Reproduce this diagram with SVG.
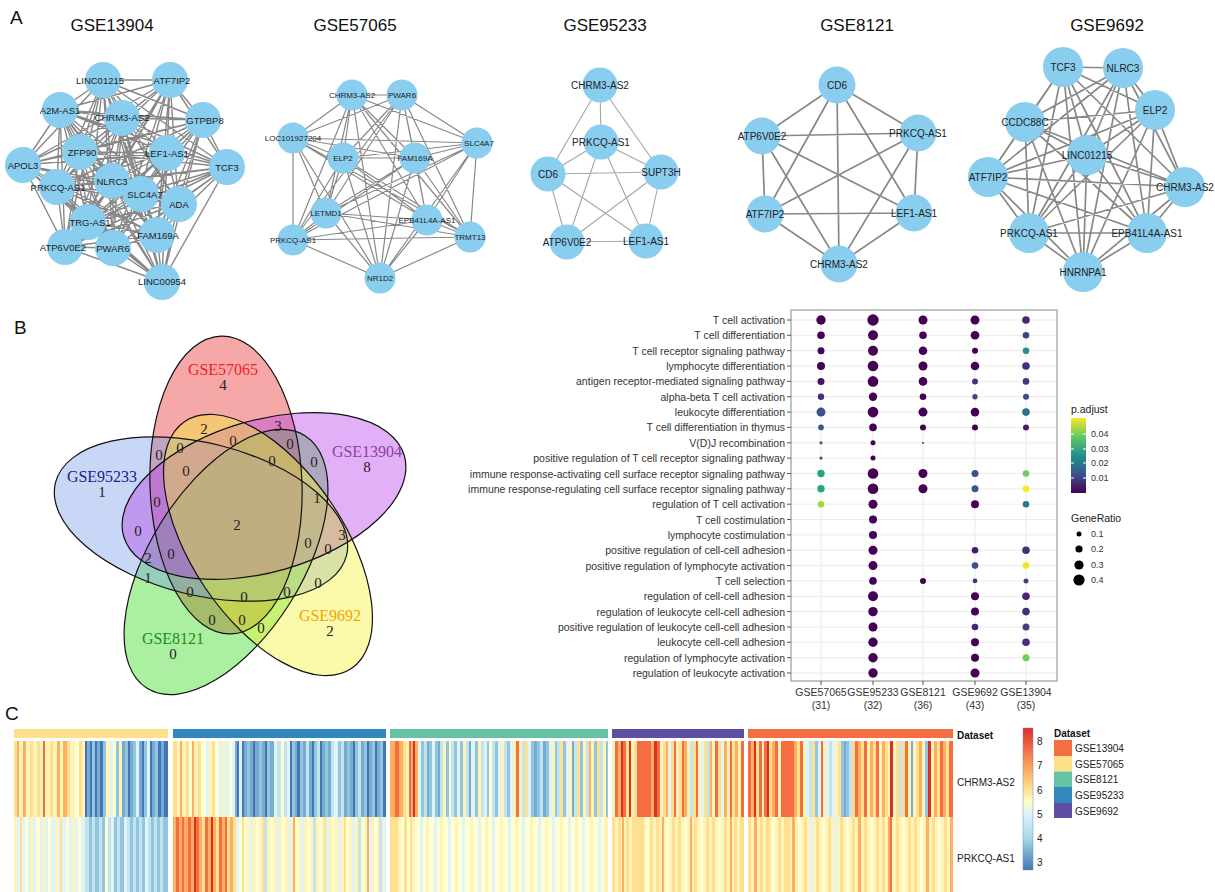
<svg xmlns="http://www.w3.org/2000/svg" width="1215" height="892" viewBox="0 0 1215 892">
<style>
text{font-family:"Liberation Sans",Arial,sans-serif}
.pl{font-size:19px;fill:#111}
.tt{font-size:17px;fill:#111;text-anchor:middle}
.nd circle{fill:#89CDEF}
.nd text{font-size:9.5px;fill:#222;text-anchor:middle;dominant-baseline:central}
.s8 text{font-size:8px}
.s10 text{font-size:10px}
.ed{fill:none;stroke:#888;stroke-linejoin:round;stroke-linecap:round}
.vn{font-family:"Liberation Serif","Times New Roman",serif;font-size:15px;fill:#222;text-anchor:middle;dominant-baseline:central}
.vl{font-family:"Liberation Serif","Times New Roman",serif;font-size:16px;text-anchor:middle;dominant-baseline:central}
.ax{font-size:10.5px;fill:#333;text-anchor:end;dominant-baseline:central}
.cx{font-size:10.5px;fill:#333;text-anchor:middle}
.lg{font-size:10.5px;fill:#222}
.lt{font-size:9px;fill:#333;dominant-baseline:central}
.hl{font-size:10px;fill:#222;dominant-baseline:central}
.hb{font-size:10px;fill:#111;font-weight:bold;dominant-baseline:central}
.hr rect{height:76px}
.hr .R{fill:#D73027}.hr .r{fill:#F46D43}.hr .o{fill:#FDAE61}.hr .y{fill:#FEE090}.hr .p{fill:#FFF3B8}.hr .w{fill:#FFFFD4}.hr .l{fill:#E0F3F8}.hr .c{fill:#C3E3EE}.hr .b{fill:#92C5DE}.hr .m{fill:#74ADD1}.hr .d{fill:#4575B4}
</style>
<defs>
<linearGradient id="vir" x1="0" y1="1" x2="0" y2="0">
<stop offset="0" stop-color="#440154"/><stop offset="0.25" stop-color="#3B528B"/><stop offset="0.5" stop-color="#21918C"/><stop offset="0.75" stop-color="#5EC962"/><stop offset="1" stop-color="#FDE725"/>
</linearGradient>
<linearGradient id="rdylbu" x1="0" y1="0" x2="0" y2="1">
<stop offset="0" stop-color="#D73027"/><stop offset="0.15" stop-color="#F46D43"/><stop offset="0.3" stop-color="#FDAE61"/><stop offset="0.43" stop-color="#FEE090"/><stop offset="0.52" stop-color="#FFFFBF"/><stop offset="0.6" stop-color="#E0F3F8"/><stop offset="0.77" stop-color="#ABD9E9"/><stop offset="0.88" stop-color="#74ADD1"/><stop offset="1" stop-color="#4575B4"/>
</linearGradient>
<ellipse id="eR" cx="226" cy="485" rx="76" ry="149" transform="rotate(-2 226 485)"/>
<ellipse id="eP" cx="264" cy="496" rx="76" ry="146" transform="rotate(74 264 496)"/>
<ellipse id="eY" cx="268" cy="545" rx="76" ry="149" transform="rotate(-34 268 545)"/>
<ellipse id="eG" cx="226" cy="562" rx="76" ry="149" transform="rotate(32 226 562)"/>
<ellipse id="eB" cx="201" cy="519" rx="76" ry="150" transform="rotate(-76 201 519)"/>
</defs>
<rect width="1215" height="892" fill="#fff"/>

<!-- Panel A -->
<text class="pl" x="10" y="24">A</text>
<text class="tt" x="112" y="31">GSE13904</text>
<text class="tt" x="355" y="31">GSE57065</text>
<text class="tt" x="605" y="31">GSE95233</text>
<text class="tt" x="857" y="31">GSE8121</text>
<text class="tt" x="1107" y="31">GSE9692</text>

<g id="connectors">
<path id="e13904" class="ed" stroke-width="1.4" d="M103 80L170 80 103 80 60 110 103 80 122 118 103 80 203 120 103 80 80 152 103 80 167 153 103 80 23 165 103 80 227 167 103 80 57 187 103 80 113 182 103 80 140 193 103 80 178 203 103 80 88 222 103 80 157 235 103 80 65 247 103 80 113 248 103 80 162 282
M170 80L60 110 170 80 122 118 170 80 203 120 170 80 80 152 170 80 167 153 170 80 23 165 170 80 227 167 170 80 57 187 170 80 113 182 170 80 140 193 170 80 178 203 170 80 88 222 170 80 157 235 170 80 65 247 170 80 113 248 170 80 162 282
M60 110L122 118 60 110 203 120 60 110 80 152 60 110 167 153 60 110 23 165 60 110 227 167 60 110 57 187 60 110 113 182 60 110 140 193 60 110 178 203 60 110 88 222 60 110 157 235 60 110 65 247 60 110 113 248 60 110 162 282
M122 118L203 120 122 118 80 152 122 118 167 153 122 118 23 165 122 118 227 167 122 118 57 187 122 118 113 182 122 118 140 193 122 118 178 203 122 118 88 222 122 118 157 235 122 118 65 247 122 118 113 248 122 118 162 282
M203 120L80 152 203 120 167 153 203 120 23 165 203 120 227 167 203 120 57 187 203 120 113 182 203 120 140 193 203 120 178 203 203 120 88 222 203 120 157 235 203 120 65 247 203 120 113 248 203 120 162 282
M80 152L167 153 80 152 23 165 80 152 227 167 80 152 57 187 80 152 113 182 80 152 140 193 80 152 178 203 80 152 88 222 80 152 157 235 80 152 65 247 80 152 113 248 80 152 162 282
M167 153L23 165 167 153 227 167 167 153 57 187 167 153 113 182 167 153 140 193 167 153 178 203 167 153 88 222 167 153 157 235 167 153 65 247 167 153 113 248 167 153 162 282
M23 165L57 187 23 165 113 182 23 165 140 193 23 165 178 203 23 165 88 222 23 165 157 235 23 165 65 247 23 165 113 248 23 165 162 282
M227 167L57 187 227 167 113 182 227 167 140 193 227 167 178 203 227 167 88 222 227 167 157 235 227 167 65 247 227 167 113 248 227 167 162 282
M57 187L113 182 57 187 140 193 57 187 178 203 57 187 88 222 57 187 157 235 57 187 65 247 57 187 113 248 57 187 162 282
M113 182L140 193 113 182 178 203 113 182 88 222 113 182 157 235 113 182 65 247 113 182 113 248 113 182 162 282
M140 193L178 203 140 193 88 222 140 193 157 235 140 193 65 247 140 193 113 248 140 193 162 282
M178 203L88 222 178 203 157 235 178 203 65 247 178 203 113 248 178 203 162 282
M88 222L157 235 88 222 65 247 88 222 113 248 88 222 162 282
M157 235L65 247 157 235 113 248 157 235 162 282
M65 247L113 248 65 247 162 282 M113 248L162 282"/>
<path id="e57065" class="ed" stroke-width="1.2" d="M352 95L402 95 352 95 293 138 352 95 477 143 352 95 343 158 352 95 415 158 352 95 326 213 352 95 427 220 352 95 293 240 352 95 470 237 352 95 380 278
M402 95L293 138 402 95 477 143 402 95 343 158 402 95 415 158 402 95 326 213 402 95 427 220 402 95 293 240 402 95 470 237 402 95 380 278
M293 138L477 143 293 138 343 158 293 138 415 158 293 138 326 213 293 138 427 220 293 138 293 240 293 138 470 237 293 138 380 278
M477 143L343 158 477 143 415 158 477 143 326 213 477 143 427 220 477 143 293 240 477 143 470 237 477 143 380 278
M343 158L415 158 343 158 326 213 343 158 427 220 343 158 293 240 343 158 470 237 343 158 380 278
M415 158L326 213 415 158 427 220 415 158 293 240 415 158 470 237 415 158 380 278
M326 213L427 220 326 213 293 240 326 213 470 237 326 213 380 278
M427 220L293 240 427 220 470 237 427 220 380 278
M293 240L470 237 293 240 380 278 M470 237L380 278"/>
<path id="e95233" class="ed" stroke-width="1.1" style="stroke:#a6a6a6" d="M600 85L601 142M600 85L548 174M600 85L661 172M601 142L548 174M601 142L661 172M601 142L567 242M601 142L646 241M548 174L661 172M548 174L567 242M548 174L646 241M661 172L567 242M661 172L646 241M567 242L646 241"/>
<path id="e8121" class="ed" stroke-width="1.7" d="M837 85L762 136 837 85 918 133 837 85 765 214 837 85 914 213 837 85 839 264 M762 136L918 133 762 136 765 214 762 136 914 213 762 136 839 264 M918 133L765 214 918 133 914 213 918 133 839 264 M765 214L914 213 765 214 839 264 M914 213L839 264"/>
<path id="e9692" class="ed" stroke-width="1.7" d="M1063 67L1123 68 1063 67 1155 110 1063 67 1025 122 1063 67 1087 155 1063 67 988 177 1063 67 1185 187 1063 67 1029 233 1063 67 1147 233 1063 67 1083 272
M1123 68L1155 110 1123 68 1025 122 1123 68 1087 155 1123 68 988 177 1123 68 1185 187 1123 68 1029 233 1123 68 1147 233 1123 68 1083 272
M1155 110L1025 122 1155 110 1087 155 1155 110 988 177 1155 110 1185 187 1155 110 1029 233 1155 110 1147 233 1155 110 1083 272
M1025 122L1087 155 1025 122 988 177 1025 122 1185 187 1025 122 1029 233 1025 122 1147 233 1025 122 1083 272
M1087 155L988 177 1087 155 1185 187 1087 155 1029 233 1087 155 1147 233 1087 155 1083 272
M988 177L1185 187 988 177 1029 233 988 177 1147 233 988 177 1083 272
M1185 187L1029 233 1185 187 1147 233 1185 187 1083 272
M1029 233L1147 233 1029 233 1083 272 M1147 233L1083 272"/>
</g>

<g id="net-GSE13904" class="nd">
<g id="n1-LINC01215"><circle cx="103" cy="80" r="18"/><text x="100" y="80">LINC01215</text></g>
<g id="n1-ATF7IP2"><circle cx="170" cy="80" r="18"/><text x="172" y="80">ATF7IP2</text></g>
<g id="n1-A2M-AS1"><circle cx="60" cy="110" r="18"/><text x="60" y="110">A2M-AS1</text></g>
<g id="n1-CHRM3-AS2"><circle cx="122" cy="118" r="18"/><text x="122" y="117">CHRM3-AS2</text></g>
<g id="n1-GTPBP8"><circle cx="203" cy="120" r="18"/><text x="205" y="120">GTPBP8</text></g>
<g id="n1-ZFP90"><circle cx="80" cy="152" r="18"/><text x="82" y="152">ZFP90</text></g>
<g id="n1-LEF1-AS1"><circle cx="167" cy="153" r="18"/><text x="167" y="153">LEF1-AS1</text></g>
<g id="n1-APOL3"><circle cx="23" cy="165" r="18"/><text x="23" y="165">APOL3</text></g>
<g id="n1-TCF3"><circle cx="227" cy="167" r="18"/><text x="227" y="167">TCF3</text></g>
<g id="n1-PRKCQ-AS1"><circle cx="57" cy="187" r="18"/><text x="58" y="187">PRKCQ-AS1</text></g>
<g id="n1-SLC4A7"><circle cx="141" cy="194" r="18"/><text x="145" y="194">SLC4A7</text></g>
<g id="n1-NLRC3"><circle cx="112" cy="181" r="18"/><text x="112" y="181">NLRC3</text></g>
<g id="n1-ADA"><circle cx="179" cy="204" r="18"/><text x="179" y="204">ADA</text></g>
<g id="n1-TRG-AS1"><circle cx="88" cy="222" r="18"/><text x="90" y="222">TRG-AS1</text></g>
<g id="n1-FAM169A"><circle cx="157" cy="235" r="18"/><text x="158" y="235">FAM169A</text></g>
<g id="n1-ATP6V0E2"><circle cx="65" cy="247" r="18"/><text x="63" y="247">ATP6V0E2</text></g>
<g id="n1-PWAR6"><circle cx="113" cy="248" r="18"/><text x="113" y="248">PWAR6</text></g>
<g id="n1-LINC00954"><circle cx="162" cy="282" r="18"/><text x="162" y="281">LINC00954</text></g>
</g>

<g id="net-GSE57065" class="nd s8">
<g id="n2-CHRM3-AS2"><circle cx="352" cy="95" r="15.5"/><text x="352" y="95">CHRM3-AS2</text></g>
<g id="n2-PWAR6"><circle cx="402" cy="95" r="15.5"/><text x="402" y="95">PWAR6</text></g>
<g id="n2-LOC101927204"><circle cx="293" cy="138" r="15.5"/><text x="293" y="138">LOC101927204</text></g>
<g id="n2-SLC4A7"><circle cx="477" cy="143" r="15.5"/><text x="479" y="143">SLC4A7</text></g>
<g id="n2-ELP2"><circle cx="343" cy="158" r="15.5"/><text x="343" y="158">ELP2</text></g>
<g id="n2-FAM169A"><circle cx="415" cy="158" r="15.5"/><text x="415" y="158">FAM169A</text></g>
<g id="n2-LETMD1"><circle cx="326" cy="213" r="15.5"/><text x="326" y="213">LETMD1</text></g>
<g id="n2-EPB41L4A-AS1"><circle cx="427" cy="220" r="15.5"/><text x="427" y="220">EPB41L4A-AS1</text></g>
<g id="n2-PRKCQ-AS1"><circle cx="293" cy="240" r="15.5"/><text x="293" y="240">PRKCQ-AS1</text></g>
<g id="n2-TRMT13"><circle cx="470" cy="237" r="15.5"/><text x="470" y="237">TRMT13</text></g>
<g id="n2-NR1D2"><circle cx="380" cy="278" r="15.5"/><text x="380" y="278">NR1D2</text></g>
</g>

<g id="net-GSE95233" class="nd s10">
<g id="n3-CHRM3-AS2"><circle cx="600" cy="85" r="17.5"/><text x="600" y="85">CHRM3-AS2</text></g>
<g id="n3-PRKCQ-AS1"><circle cx="601" cy="142" r="17.5"/><text x="601" y="142">PRKCQ-AS1</text></g>
<g id="n3-CD6"><circle cx="548" cy="174" r="17.5"/><text x="548" y="174">CD6</text></g>
<g id="n3-SUPT3H"><circle cx="661" cy="172" r="17.5"/><text x="661" y="172">SUPT3H</text></g>
<g id="n3-ATP6V0E2"><circle cx="567" cy="242" r="17.5"/><text x="567" y="242">ATP6V0E2</text></g>
<g id="n3-LEF1-AS1"><circle cx="646" cy="241" r="17.5"/><text x="646" y="241">LEF1-AS1</text></g>
</g>

<g id="net-GSE8121" class="nd s10">
<g id="n4-CD6"><circle cx="837" cy="85" r="18.5"/><text x="837" y="85">CD6</text></g>
<g id="n4-ATP6V0E2"><circle cx="762" cy="136" r="18.5"/><text x="762" y="136">ATP6V0E2</text></g>
<g id="n4-PRKCQ-AS1"><circle cx="918" cy="133" r="18.5"/><text x="918" y="133">PRKCQ-AS1</text></g>
<g id="n4-ATF7IP2"><circle cx="765" cy="214" r="18.5"/><text x="765" y="214">ATF7IP2</text></g>
<g id="n4-LEF1-AS1"><circle cx="914" cy="213" r="18.5"/><text x="914" y="213">LEF1-AS1</text></g>
<g id="n4-CHRM3-AS2"><circle cx="839" cy="264" r="18.5"/><text x="839" y="264">CHRM3-AS2</text></g>
</g>

<g id="net-GSE9692" class="nd s10">
<g id="n5-TCF3"><circle cx="1063" cy="67" r="20"/><text x="1063" y="67">TCF3</text></g>
<g id="n5-NLRC3"><circle cx="1123" cy="68" r="20"/><text x="1123" y="68">NLRC3</text></g>
<g id="n5-ELP2"><circle cx="1155" cy="110" r="20"/><text x="1155" y="110">ELP2</text></g>
<g id="n5-CCDC88C"><circle cx="1025" cy="122" r="20"/><text x="1025" y="122">CCDC88C</text></g>
<g id="n5-LINC01215"><circle cx="1087" cy="155" r="20"/><text x="1087" y="155">LINC01215</text></g>
<g id="n5-ATF7IP2"><circle cx="988" cy="177" r="20"/><text x="988" y="177">ATF7IP2</text></g>
<g id="n5-CHRM3-AS2"><circle cx="1185" cy="187" r="20"/><text x="1185" y="187">CHRM3-AS2</text></g>
<g id="n5-PRKCQ-AS1"><circle cx="1029" cy="233" r="20"/><text x="1029" y="233">PRKCQ-AS1</text></g>
<g id="n5-EPB41L4A-AS1"><circle cx="1147" cy="233" r="20"/><text x="1147" y="233">EPB41L4A-AS1</text></g>
<g id="n5-HNRNPA1"><circle cx="1083" cy="272" r="20"/><text x="1083" y="272">HNRNPA1</text></g>
</g>

<!-- Panel B: Venn -->
<text class="pl" x="14" y="334">B</text>
<g id="venn">
<use href="#eR" fill="#E82525" fill-opacity="0.4"/>
<use href="#eG" fill="#2AD911" fill-opacity="0.4"/>
<use href="#eB" fill="#759BE5" fill-opacity="0.4"/>
<use href="#eP" fill="#B639E8" fill-opacity="0.4"/>
<use href="#eY" fill="#F2F22A" fill-opacity="0.4"/>
<g fill="none" stroke="#111" stroke-width="1.2">
<use href="#eR"/><use href="#eP"/><use href="#eY"/><use href="#eG"/><use href="#eB"/>
</g>
<text class="vl" x="223" y="369" fill="#F01E1E">GSE57065</text><text class="vn" x="223" y="385">4</text>
<text class="vl" x="367" y="451" fill="#8E3CA8">GSE13904</text><text class="vn" x="367" y="467">8</text>
<text class="vl" x="102" y="476" fill="#1C1C8C">GSE95233</text><text class="vn" x="102" y="492">1</text>
<text class="vl" x="330" y="615" fill="#F5A200">GSE9692</text><text class="vn" x="330" y="631">2</text>
<text class="vl" x="173" y="638" fill="#228B22">GSE8121</text><text class="vn" x="173" y="654">0</text>
<text class="vn" x="204" y="429">2</text><text class="vn" x="278" y="426">3</text>
<text class="vn" x="233" y="441">0</text><text class="vn" x="180" y="448">0</text>
<text class="vn" x="290" y="444">0</text><text class="vn" x="159" y="455">0</text>
<text class="vn" x="272" y="461">0</text><text class="vn" x="314" y="462">0</text>
<text class="vn" x="186" y="471">0</text><text class="vn" x="317" y="498">1</text>
<text class="vn" x="157" y="502">0</text><text class="vn" x="237" y="525">2</text>
<text class="vn" x="138" y="531">0</text><text class="vn" x="342" y="535">3</text>
<text class="vn" x="308" y="543">0</text><text class="vn" x="328" y="549">0</text>
<text class="vn" x="171" y="554">0</text><text class="vn" x="148" y="558">2</text>
<text class="vn" x="148" y="578">1</text><text class="vn" x="318" y="583">0</text>
<text class="vn" x="190" y="592">0</text><text class="vn" x="287" y="592">0</text>
<text class="vn" x="244" y="597">0</text><text class="vn" x="212" y="620">0</text>
<text class="vn" x="242" y="620">0</text><text class="vn" x="261" y="628">0</text>
</g>

<!-- Panel B: dot plot -->
<g id="dotplot">
<path d="M791 320H1057M791 335.3H1057M791 350.7H1057M791 366H1057M791 381.4H1057M791 396.7H1057M791 412.1H1057M791 427.4H1057M791 442.8H1057M791 458.1H1057M791 473.5H1057M791 488.8H1057M791 504.2H1057M791 519.5H1057M791 534.9H1057M791 550.2H1057M791 565.6H1057M791 580.9H1057M791 596.3H1057M791 611.6H1057M791 627H1057M791 642.3H1057M791 657.7H1057M791 673H1057M821 310V681M873 310V681M923 310V681M975 310V681M1026 310V681" stroke="#EBEBEB" stroke-width="1" fill="none"/>
<rect x="791" y="310" width="266" height="371" fill="none" stroke="#9A9A9A" stroke-width="1.2"/>
<path d="M787 320H791M787 335.3H791M787 350.7H791M787 366H791M787 381.4H791M787 396.7H791M787 412.1H791M787 427.4H791M787 442.8H791M787 458.1H791M787 473.5H791M787 488.8H791M787 504.2H791M787 519.5H791M787 534.9H791M787 550.2H791M787 565.6H791M787 580.9H791M787 596.3H791M787 611.6H791M787 627H791M787 642.3H791M787 657.7H791M787 673H791M821 681V685M873 681V685M923 681V685M975 681V685M1026 681V685" stroke="#555" stroke-width="1"/>
<g>
<text class="ax" x="785" y="320">T cell activation</text>
<text class="ax" x="785" y="335.3">T cell differentiation</text>
<text class="ax" x="785" y="350.7">T cell receptor signaling pathway</text>
<text class="ax" x="785" y="366">lymphocyte differentiation</text>
<text class="ax" x="785" y="381.4">antigen receptor-mediated signaling pathway</text>
<text class="ax" x="785" y="396.7">alpha-beta T cell activation</text>
<text class="ax" x="785" y="412.1">leukocyte differentiation</text>
<text class="ax" x="785" y="427.4">T cell differentiation in thymus</text>
<text class="ax" x="785" y="442.8">V(D)J recombination</text>
<text class="ax" x="785" y="458.1">positive regulation of T cell receptor signaling pathway</text>
<text class="ax" x="785" y="473.5">immune response-activating cell surface receptor signaling pathway</text>
<text class="ax" x="785" y="488.8">immune response-regulating cell surface receptor signaling pathway</text>
<text class="ax" x="785" y="504.2">regulation of T cell activation</text>
<text class="ax" x="785" y="519.5">T cell costimulation</text>
<text class="ax" x="785" y="534.9">lymphocyte costimulation</text>
<text class="ax" x="785" y="550.2">positive regulation of cell-cell adhesion</text>
<text class="ax" x="785" y="565.6">positive regulation of lymphocyte activation</text>
<text class="ax" x="785" y="580.9">T cell selection</text>
<text class="ax" x="785" y="596.3">regulation of cell-cell adhesion</text>
<text class="ax" x="785" y="611.6">regulation of leukocyte cell-cell adhesion</text>
<text class="ax" x="785" y="627">positive regulation of leukocyte cell-cell adhesion</text>
<text class="ax" x="785" y="642.3">leukocyte cell-cell adhesion</text>
<text class="ax" x="785" y="657.7">regulation of lymphocyte activation</text>
<text class="ax" x="785" y="673">regulation of leukocyte activation</text>
</g>
<g>
<text class="cx" x="821" y="696">GSE57065</text><text class="cx" x="821" y="709">(31)</text>
<text class="cx" x="873" y="696">GSE95233</text><text class="cx" x="873" y="709">(32)</text>
<text class="cx" x="923" y="696">GSE8121</text><text class="cx" x="923" y="709">(36)</text>
<text class="cx" x="975" y="696">GSE9692</text><text class="cx" x="975" y="709">(43)</text>
<text class="cx" x="1026" y="696">GSE13904</text><text class="cx" x="1026" y="709">(35)</text>
</g>
<g fill="#440154">
<circle cx="821" cy="320" r="4.7"/><circle cx="821" cy="335.3" r="3.8"/><circle cx="821" cy="350.7" r="3.5" fill="#450559"/><circle cx="821" cy="366" r="4"/><circle cx="821" cy="381.4" r="3.5" fill="#471365"/><circle cx="821" cy="396.7" r="3.2" fill="#472C7A"/><circle cx="821" cy="412.1" r="4.5" fill="#3B528B"/><circle cx="821" cy="427.4" r="2.8" fill="#3B528B"/><circle cx="821" cy="442.8" r="1.6" fill="#3B528B"/><circle cx="821" cy="458.1" r="1.6" fill="#3B528B"/><circle cx="821" cy="473.5" r="3.7" fill="#25A584"/><circle cx="821" cy="488.8" r="3.7" fill="#25A584"/><circle cx="821" cy="504.2" r="3.3" fill="#A5DB36"/>
<circle cx="873" cy="320" r="5.7"/><circle cx="873" cy="335.3" r="5"/><circle cx="873" cy="350.7" r="5"/><circle cx="873" cy="366" r="5.3"/><circle cx="873" cy="381.4" r="5.3"/><circle cx="873" cy="396.7" r="4.2"/><circle cx="873" cy="412.1" r="5.3"/><circle cx="873" cy="427.4" r="3.8"/><circle cx="873" cy="442.8" r="2.5"/><circle cx="873" cy="458.1" r="2.5"/><circle cx="873" cy="473.5" r="5.3"/><circle cx="873" cy="488.8" r="5.3"/><circle cx="873" cy="504.2" r="4.5"/><circle cx="873" cy="519.5" r="4"/><circle cx="873" cy="534.9" r="4"/><circle cx="873" cy="550.2" r="4.5"/><circle cx="873" cy="565.6" r="4.5"/><circle cx="873" cy="580.9" r="3.8"/><circle cx="873" cy="596.3" r="5"/><circle cx="873" cy="611.6" r="4.7"/><circle cx="873" cy="627" r="4.5"/><circle cx="873" cy="642.3" r="4.7"/><circle cx="873" cy="657.7" r="4.7"/><circle cx="873" cy="673" r="4.7"/>
<circle cx="923" cy="320" r="4.5"/><circle cx="923" cy="335.3" r="3.8"/><circle cx="923" cy="350.7" r="4.3"/><circle cx="923" cy="366" r="4.5"/><circle cx="923" cy="381.4" r="4.3"/><circle cx="923" cy="396.7" r="3.3"/><circle cx="923" cy="412.1" r="4.5"/><circle cx="923" cy="427.4" r="3"/><circle cx="923" cy="442.8" r="1.1" fill="#3B528B"/><circle cx="923" cy="473.5" r="4.5"/><circle cx="923" cy="488.8" r="4.5"/><circle cx="923" cy="580.9" r="3"/>
<circle cx="975" cy="320" r="4.5"/><circle cx="975" cy="335.3" r="4.3"/><circle cx="975" cy="350.7" r="3"/><circle cx="975" cy="366" r="4.3"/><circle cx="975" cy="381.4" r="3" fill="#46337F"/><circle cx="975" cy="396.7" r="2.7" fill="#3E4C8A"/><circle cx="975" cy="412.1" r="4.3"/><circle cx="975" cy="427.4" r="3"/><circle cx="975" cy="473.5" r="3.5" fill="#3B528B"/><circle cx="975" cy="488.8" r="3.5" fill="#3B5A8C"/><circle cx="975" cy="504.2" r="4"/><circle cx="975" cy="550.2" r="3.3" fill="#48186A"/><circle cx="975" cy="565.6" r="3.3" fill="#3B528B"/><circle cx="975" cy="580.9" r="2.3" fill="#472D7B"/><circle cx="975" cy="596.3" r="4"/><circle cx="975" cy="611.6" r="4"/><circle cx="975" cy="627" r="3.3" fill="#482576"/><circle cx="975" cy="642.3" r="4"/><circle cx="975" cy="657.7" r="4"/><circle cx="975" cy="673" r="4.5"/>
<circle cx="1026" cy="320" r="3.8" fill="#482173"/><circle cx="1026" cy="335.3" r="3.3" fill="#433E85"/><circle cx="1026" cy="350.7" r="3.3" fill="#21918C"/><circle cx="1026" cy="366" r="3.8" fill="#472D7B"/><circle cx="1026" cy="381.4" r="3.3" fill="#453882"/><circle cx="1026" cy="396.7" r="3" fill="#3E4A89"/><circle cx="1026" cy="412.1" r="3.8" fill="#2C728E"/><circle cx="1026" cy="427.4" r="3" fill="#481D6F"/><circle cx="1026" cy="473.5" r="3.3" fill="#6CCE59"/><circle cx="1026" cy="488.8" r="3.3" fill="#FDE725"/><circle cx="1026" cy="504.2" r="3.3" fill="#2A788E"/><circle cx="1026" cy="550.2" r="3.8" fill="#472D7B"/><circle cx="1026" cy="565.6" r="3.3" fill="#F1E51D"/><circle cx="1026" cy="580.9" r="2.5" fill="#433E85"/><circle cx="1026" cy="596.3" r="3.8" fill="#482576"/><circle cx="1026" cy="611.6" r="3.8" fill="#472C7A"/><circle cx="1026" cy="627" r="3.5" fill="#433E85"/><circle cx="1026" cy="642.3" r="3.8" fill="#472D7B"/><circle cx="1026" cy="657.7" r="3.5" fill="#6ECE58"/>
</g>
<g id="dot-legend">
<text class="lg" x="1071" y="413">p.adjust</text>
<rect x="1071" y="418" width="15" height="75" fill="url(#vir)"/>
<path d="M1071 434h3M1083 434h3M1071 449h3M1083 449h3M1071 463h3M1083 463h3M1071 478h3M1083 478h3" stroke="#fff" stroke-width="1"/>
<text class="lt" x="1091" y="434">0.04</text><text class="lt" x="1091" y="449">0.03</text><text class="lt" x="1091" y="463">0.02</text><text class="lt" x="1091" y="478">0.01</text>
<text class="lg" x="1071" y="522">GeneRatio</text>
<circle cx="1079" cy="534" r="2.5" fill="#000"/><circle cx="1079" cy="549" r="3.6" fill="#000"/><circle cx="1079" cy="565" r="4.6" fill="#000"/><circle cx="1079" cy="580" r="5.6" fill="#000"/>
<text class="lt" x="1091" y="534">0.1</text><text class="lt" x="1091" y="549">0.2</text><text class="lt" x="1091" y="565">0.3</text><text class="lt" x="1091" y="580">0.4</text>
</g>
</g>

<!-- Panel C -->
<text class="pl" x="5" y="720">C</text>
<g id="annotation">
<rect x="14" y="729" width="154" height="9" fill="#FEE08B"/>
<rect x="173" y="729" width="213" height="9" fill="#3288BD"/>
<rect x="390" y="729" width="218" height="9" fill="#66C2A5"/>
<rect x="612" y="729" width="132" height="9" fill="#5E4FA2"/>
<rect x="748" y="729" width="205" height="9" fill="#F46D43"/>
</g>
<g id="heatmap">
<g class="hr" transform="translate(0,741)">
<rect x="14" width="154" class="p"/>
<rect x="14" width="3" class="y"/><rect x="17" width="2" class="o"/><rect x="23" width="3" class="o"/><rect x="30" width="3" class="y"/><rect x="37" width="3" class="y"/><rect x="43" width="2" class="r"/><rect x="50" width="3" class="y"/><rect x="57" width="3" class="o"/><rect x="63" width="4" class="o"/><rect x="67" width="3" class="y"/><rect x="75" width="4" class="w"/><rect x="79" width="3" class="y"/><rect x="85" width="2" class="d"/><rect x="87" width="3" class="m"/><rect x="90" width="2" class="d"/><rect x="92" width="3" class="b"/><rect x="95" width="2" class="d"/><rect x="97" width="3" class="m"/><rect x="100" width="3" class="d"/><rect x="103" width="3" class="b"/><rect x="106" width="4" class="p"/><rect x="110" width="3" class="l"/><rect x="113" width="3" class="w"/><rect x="116" width="3" class="b"/><rect x="122" width="3" class="m"/><rect x="125" width="3" class="b"/><rect x="128" width="2" class="d"/><rect x="130" width="3" class="m"/><rect x="133" width="3" class="b"/><rect x="136" width="3" class="l"/><rect x="139" width="3" class="m"/><rect x="142" width="2" class="d"/><rect x="144" width="3" class="b"/><rect x="147" width="3" class="l"/><rect x="150" width="2" class="d"/><rect x="152" width="3" class="m"/><rect x="155" width="3" class="b"/><rect x="158" width="3" class="d"/><rect x="161" width="3" class="m"/><rect x="164" width="4" class="d"/>
<rect x="173" width="213" class="b"/>
<rect x="173" width="4" class="y"/><rect x="177" width="3" class="p"/><rect x="180" width="2" class="o"/><rect x="182" width="4" class="p"/><rect x="186" width="3" class="y"/><rect x="189" width="3" class="w"/><rect x="192" width="2" class="o"/><rect x="194" width="4" class="p"/><rect x="198" width="3" class="y"/><rect x="201" width="5" class="w"/><rect x="206" width="3" class="l"/><rect x="209" width="3" class="p"/><rect x="212" width="3" class="y"/><rect x="215" width="4" class="w"/><rect x="219" width="3" class="l"/><rect x="222" width="3" class="p"/><rect x="225" width="4" class="l"/><rect x="229" width="3" class="w"/><rect x="232" width="3" class="l"/><rect x="235" width="2" class="m"/><rect x="237" width="2" class="d"/><rect x="239" width="3" class="l"/><rect x="242" width="2" class="d"/><rect x="244" width="3" class="m"/><rect x="250" width="3" class="m"/><rect x="253" width="2" class="d"/><rect x="255" width="4" class="m"/><rect x="262" width="3" class="m"/><rect x="265" width="2" class="d"/><rect x="270" width="4" class="m"/><rect x="274" width="3" class="l"/><rect x="277" width="4" class="c"/><rect x="281" width="3" class="w"/><rect x="284" width="3" class="c"/><rect x="287" width="3" class="l"/><rect x="290" width="2" class="d"/><rect x="295" width="2" class="m"/><rect x="297" width="3" class="d"/><rect x="303" width="3" class="m"/><rect x="306" width="3" class="c"/><rect x="309" width="3" class="m"/><rect x="312" width="2" class="d"/><rect x="317" width="3" class="c"/><rect x="320" width="2" class="d"/><rect x="322" width="3" class="m"/><rect x="328" width="3" class="m"/><rect x="331" width="3" class="c"/><rect x="334" width="4" class="l"/><rect x="341" width="3" class="c"/><rect x="344" width="3" class="m"/><rect x="350" width="3" class="m"/><rect x="353" width="2" class="d"/><rect x="358" width="3" class="c"/><rect x="361" width="3" class="m"/><rect x="367" width="2" class="d"/><rect x="369" width="3" class="m"/><rect x="375" width="2" class="d"/><rect x="377" width="3" class="m"/><rect x="383" width="3" class="d"/>
<rect x="390" width="218" class="c"/>
<rect x="390" width="5" class="o"/><rect x="395" width="4" class="r"/><rect x="399" width="4" class="o"/><rect x="403" width="3" class="y"/><rect x="406" width="3" class="p"/><rect x="409" width="2" class="r"/><rect x="411" width="2" class="o"/><rect x="413" width="2" class="R"/><rect x="415" width="3" class="o"/><rect x="418" width="3" class="l"/><rect x="421" width="3" class="b"/><rect x="427" width="2" class="m"/><rect x="429" width="3" class="b"/><rect x="432" width="3" class="l"/><rect x="435" width="3" class="b"/><rect x="438" width="2" class="m"/><rect x="443" width="3" class="p"/><rect x="446" width="3" class="b"/><rect x="449" width="2" class="w"/><rect x="454" width="3" class="b"/><rect x="457" width="3" class="l"/><rect x="460" width="3" class="b"/><rect x="463" width="3" class="p"/><rect x="469" width="2" class="m"/><rect x="471" width="4" class="l"/><rect x="475" width="3" class="b"/><rect x="478" width="3" class="p"/><rect x="484" width="3" class="l"/><rect x="487" width="2" class="b"/><rect x="489" width="3" class="w"/><rect x="495" width="3" class="b"/><rect x="498" width="3" class="l"/><rect x="501" width="3" class="p"/><rect x="507" width="3" class="b"/><rect x="510" width="3" class="l"/><rect x="513" width="3" class="p"/><rect x="516" width="3" class="r"/><rect x="519" width="3" class="p"/><rect x="525" width="3" class="y"/><rect x="528" width="3" class="l"/><rect x="531" width="3" class="b"/><rect x="534" width="3" class="m"/><rect x="537" width="3" class="b"/><rect x="543" width="3" class="m"/><rect x="546" width="3" class="b"/><rect x="549" width="3" class="l"/><rect x="552" width="3" class="p"/><rect x="555" width="2" class="b"/><rect x="560" width="3" class="y"/><rect x="563" width="3" class="b"/><rect x="566" width="3" class="l"/><rect x="569" width="3" class="p"/><rect x="572" width="2" class="m"/><rect x="577" width="3" class="y"/><rect x="580" width="3" class="b"/><rect x="583" width="3" class="p"/><rect x="589" width="2" class="o"/><rect x="591" width="3" class="p"/><rect x="594" width="3" class="b"/><rect x="597" width="3" class="y"/><rect x="603" width="3" class="p"/><rect x="606" width="2" class="b"/>
<rect x="612" width="132" class="o"/>
<rect x="612" width="3" class="p"/><rect x="615" width="3" class="r"/><rect x="621" width="2" class="R"/><rect x="623" width="3" class="r"/><rect x="626" width="3" class="y"/><rect x="629" width="2" class="R"/><rect x="631" width="3" class="p"/><rect x="634" width="3" class="y"/><rect x="637" width="14" class="r"/><rect x="654" width="3" class="R"/><rect x="657" width="3" class="r"/><rect x="660" width="3" class="p"/><rect x="663" width="3" class="y"/><rect x="668" width="3" class="l"/><rect x="671" width="3" class="y"/><rect x="674" width="2" class="r"/><rect x="676" width="3" class="p"/><rect x="679" width="3" class="y"/><rect x="682" width="2" class="r"/><rect x="687" width="3" class="p"/><rect x="690" width="3" class="c"/><rect x="693" width="3" class="y"/><rect x="696" width="2" class="r"/><rect x="698" width="3" class="p"/><rect x="701" width="3" class="l"/><rect x="704" width="3" class="y"/><rect x="707" width="3" class="c"/><rect x="712" width="3" class="p"/><rect x="715" width="3" class="r"/><rect x="718" width="3" class="y"/><rect x="721" width="3" class="l"/><rect x="727" width="3" class="p"/><rect x="730" width="2" class="r"/><rect x="732" width="3" class="y"/><rect x="738" width="3" class="p"/><rect x="741" width="3" class="r"/>
<rect x="748" width="205" class="o"/>
<rect x="748" width="3" class="r"/><rect x="754" width="2" class="R"/><rect x="756" width="3" class="y"/><rect x="759" width="3" class="r"/><rect x="762" width="2" class="p"/><rect x="764" width="3" class="r"/><rect x="767" width="2" class="R"/><rect x="769" width="3" class="y"/><rect x="775" width="3" class="r"/><rect x="778" width="3" class="p"/><rect x="781" width="13" class="r"/><rect x="797" width="3" class="y"/><rect x="800" width="3" class="r"/><rect x="803" width="3" class="p"/><rect x="806" width="3" class="l"/><rect x="809" width="3" class="c"/><rect x="812" width="3" class="y"/><rect x="815" width="3" class="b"/><rect x="818" width="3" class="l"/><rect x="821" width="2" class="r"/><rect x="823" width="3" class="p"/><rect x="826" width="3" class="l"/><rect x="829" width="3" class="c"/><rect x="832" width="3" class="l"/><rect x="835" width="3" class="p"/><rect x="838" width="3" class="y"/><rect x="841" width="3" class="b"/><rect x="844" width="2" class="m"/><rect x="846" width="3" class="b"/><rect x="849" width="3" class="c"/><rect x="852" width="3" class="y"/><rect x="855" width="3" class="r"/><rect x="861" width="3" class="y"/><rect x="864" width="3" class="r"/><rect x="867" width="3" class="p"/><rect x="873" width="3" class="y"/><rect x="876" width="3" class="r"/><rect x="879" width="3" class="p"/><rect x="885" width="3" class="y"/><rect x="888" width="2" class="p"/><rect x="890" width="3" class="R"/><rect x="893" width="3" class="p"/><rect x="896" width="3" class="y"/><rect x="899" width="3" class="c"/><rect x="902" width="3" class="y"/><rect x="905" width="3" class="r"/><rect x="908" width="3" class="p"/><rect x="911" width="2" class="m"/><rect x="913" width="3" class="p"/><rect x="916" width="3" class="y"/><rect x="922" width="3" class="p"/><rect x="925" width="3" class="b"/><rect x="928" width="3" class="R"/><rect x="931" width="3" class="p"/><rect x="937" width="3" class="y"/><rect x="940" width="3" class="r"/><rect x="946" width="3" class="y"/><rect x="949" width="4" class="r"/>
</g>
<g class="hr" transform="translate(0,817)">
<rect x="14" width="154" class="l"/>
<rect x="14" width="3" class="p"/><rect x="20" width="2" class="y"/><rect x="25" width="3" class="w"/><rect x="30" width="3" class="p"/><rect x="36" width="4" class="w"/><rect x="42" width="3" class="p"/><rect x="48" width="3" class="w"/><rect x="55" width="3" class="p"/><rect x="60" width="2" class="y"/><rect x="66" width="3" class="w"/><rect x="72" width="3" class="p"/><rect x="78" width="3" class="w"/><rect x="85" width="4" class="c"/><rect x="89" width="3" class="b"/><rect x="92" width="3" class="c"/><rect x="95" width="4" class="b"/><rect x="99" width="3" class="c"/><rect x="102" width="3" class="b"/><rect x="105" width="3" class="w"/><rect x="108" width="3" class="c"/><rect x="114" width="3" class="b"/><rect x="117" width="3" class="c"/><rect x="120" width="4" class="b"/><rect x="127" width="3" class="c"/><rect x="130" width="3" class="b"/><rect x="133" width="3" class="c"/><rect x="136" width="3" class="b"/><rect x="139" width="3" class="c"/><rect x="142" width="3" class="b"/><rect x="148" width="3" class="c"/><rect x="151" width="3" class="b"/><rect x="154" width="3" class="c"/><rect x="157" width="3" class="b"/><rect x="160" width="3" class="c"/><rect x="163" width="5" class="b"/>
<rect x="173" width="213" class="p"/>
<rect x="173" width="3" class="o"/><rect x="176" width="3" class="r"/><rect x="179" width="3" class="o"/><rect x="182" width="2" class="r"/><rect x="184" width="4" class="o"/><rect x="188" width="3" class="r"/><rect x="191" width="3" class="o"/><rect x="194" width="2" class="R"/><rect x="196" width="3" class="r"/><rect x="199" width="3" class="o"/><rect x="202" width="3" class="y"/><rect x="205" width="3" class="r"/><rect x="208" width="3" class="o"/><rect x="211" width="2" class="R"/><rect x="213" width="3" class="o"/><rect x="216" width="3" class="y"/><rect x="219" width="3" class="r"/><rect x="222" width="3" class="o"/><rect x="225" width="2" class="r"/><rect x="227" width="3" class="y"/><rect x="230" width="3" class="o"/><rect x="233" width="3" class="y"/><rect x="236" width="3" class="l"/><rect x="239" width="3" class="w"/><rect x="242" width="2" class="y"/><rect x="244" width="3" class="w"/><rect x="250" width="3" class="l"/><rect x="256" width="3" class="w"/><rect x="262" width="2" class="y"/><rect x="264" width="3" class="c"/><rect x="270" width="3" class="w"/><rect x="276" width="3" class="l"/><rect x="282" width="3" class="w"/><rect x="288" width="3" class="l"/><rect x="293" width="2" class="o"/><rect x="295" width="3" class="w"/><rect x="301" width="3" class="l"/><rect x="307" width="3" class="w"/><rect x="313" width="3" class="c"/><rect x="319" width="3" class="w"/><rect x="324" width="2" class="y"/><rect x="326" width="3" class="l"/><rect x="332" width="3" class="w"/><rect x="338" width="3" class="l"/><rect x="344" width="2" class="y"/><rect x="346" width="3" class="w"/><rect x="352" width="3" class="l"/><rect x="358" width="3" class="c"/><rect x="362" width="3" class="w"/><rect x="367" width="2" class="o"/><rect x="369" width="3" class="l"/><rect x="374" width="3" class="w"/><rect x="379" width="3" class="c"/><rect x="383" width="3" class="l"/>
<rect x="390" width="218" class="w"/>
<rect x="390" width="8" class="y"/><rect x="398" width="3" class="p"/><rect x="404" width="3" class="y"/><rect x="410" width="2" class="y"/><rect x="412" width="3" class="p"/><rect x="420" width="3" class="l"/><rect x="426" width="3" class="p"/><rect x="434" width="3" class="l"/><rect x="440" width="3" class="p"/><rect x="448" width="3" class="l"/><rect x="455" width="3" class="p"/><rect x="462" width="3" class="l"/><rect x="470" width="3" class="p"/><rect x="478" width="3" class="l"/><rect x="485" width="3" class="p"/><rect x="492" width="3" class="l"/><rect x="500" width="3" class="p"/><rect x="508" width="3" class="l"/><rect x="515" width="3" class="p"/><rect x="522" width="3" class="l"/><rect x="530" width="3" class="p"/><rect x="538" width="3" class="l"/><rect x="545" width="3" class="p"/><rect x="552" width="3" class="l"/><rect x="560" width="3" class="p"/><rect x="568" width="3" class="l"/><rect x="575" width="3" class="p"/><rect x="582" width="3" class="l"/><rect x="590" width="3" class="p"/><rect x="598" width="3" class="l"/><rect x="604" width="4" class="p"/>
<rect x="612" width="132" class="p"/>
<rect x="612" width="3" class="y"/><rect x="618" width="3" class="y"/><rect x="622" width="2" class="o"/><rect x="626" width="3" class="y"/><rect x="632" width="12" class="y"/><rect x="646" width="3" class="w"/><rect x="650" width="3" class="y"/><rect x="656" width="3" class="y"/><rect x="662" width="2" class="o"/><rect x="666" width="3" class="w"/><rect x="672" width="3" class="y"/><rect x="678" width="3" class="y"/><rect x="684" width="3" class="w"/><rect x="690" width="2" class="o"/><rect x="694" width="3" class="y"/><rect x="700" width="3" class="w"/><rect x="706" width="3" class="y"/><rect x="712" width="3" class="y"/><rect x="718" width="3" class="w"/><rect x="724" width="3" class="y"/><rect x="730" width="2" class="o"/><rect x="734" width="3" class="y"/><rect x="740" width="4" class="y"/>
<rect x="748" width="205" class="p"/>
<rect x="748" width="3" class="y"/><rect x="754" width="3" class="o"/><rect x="760" width="3" class="y"/><rect x="766" width="4" class="y"/><rect x="772" width="3" class="w"/><rect x="778" width="3" class="y"/><rect x="784" width="6" class="y"/><rect x="792" width="3" class="o"/><rect x="798" width="3" class="w"/><rect x="804" width="3" class="y"/><rect x="810" width="3" class="l"/><rect x="816" width="3" class="y"/><rect x="822" width="3" class="w"/><rect x="828" width="3" class="y"/><rect x="834" width="3" class="l"/><rect x="840" width="3" class="y"/><rect x="846" width="3" class="w"/><rect x="852" width="3" class="y"/><rect x="858" width="3" class="o"/><rect x="864" width="3" class="y"/><rect x="870" width="3" class="w"/><rect x="876" width="3" class="y"/><rect x="882" width="3" class="y"/><rect x="888" width="2" class="o"/><rect x="890" width="2" class="r"/><rect x="896" width="3" class="y"/><rect x="902" width="3" class="w"/><rect x="908" width="3" class="y"/><rect x="914" width="3" class="y"/><rect x="920" width="3" class="w"/><rect x="926" width="3" class="o"/><rect x="932" width="3" class="y"/><rect x="938" width="3" class="w"/><rect x="944" width="3" class="y"/><rect x="950" width="3" class="o"/>
</g>
</g>
<g id="heatmap-labels">
<text class="hb" x="957" y="735">Dataset</text>
<text class="hl" x="957" y="782">CHRM3-AS2</text>
<text class="hl" x="957" y="858">PRKCQ-AS1</text>
</g>
<g id="heatmap-colorbar">
<rect x="1023" y="728" width="10" height="142" fill="url(#rdylbu)" stroke="#6b8fc0" stroke-width="0.5"/>
<text class="hl" x="1037" y="741">8</text><text class="hl" x="1037" y="765">7</text><text class="hl" x="1037" y="790">6</text><text class="hl" x="1037" y="814">5</text><text class="hl" x="1037" y="838">4</text><text class="hl" x="1037" y="862">3</text>
</g>
<g id="dataset-legend">
<text class="hb" x="1054" y="733">Dataset</text>
<rect x="1054" y="740" width="18" height="16" fill="#F46D43"/>
<rect x="1054" y="756" width="18" height="15.5" fill="#FEE08B"/>
<rect x="1054" y="771.5" width="18" height="15.5" fill="#66C2A5"/>
<rect x="1054" y="787" width="18" height="16" fill="#3288BD"/>
<rect x="1054" y="803" width="18" height="15" fill="#5E4FA2"/>
<text class="hl" x="1075" y="748">GSE13904</text>
<text class="hl" x="1075" y="764">GSE57065</text>
<text class="hl" x="1075" y="779">GSE8121</text>
<text class="hl" x="1075" y="795">GSE95233</text>
<text class="hl" x="1075" y="811">GSE9692</text>
</g>
</svg>
